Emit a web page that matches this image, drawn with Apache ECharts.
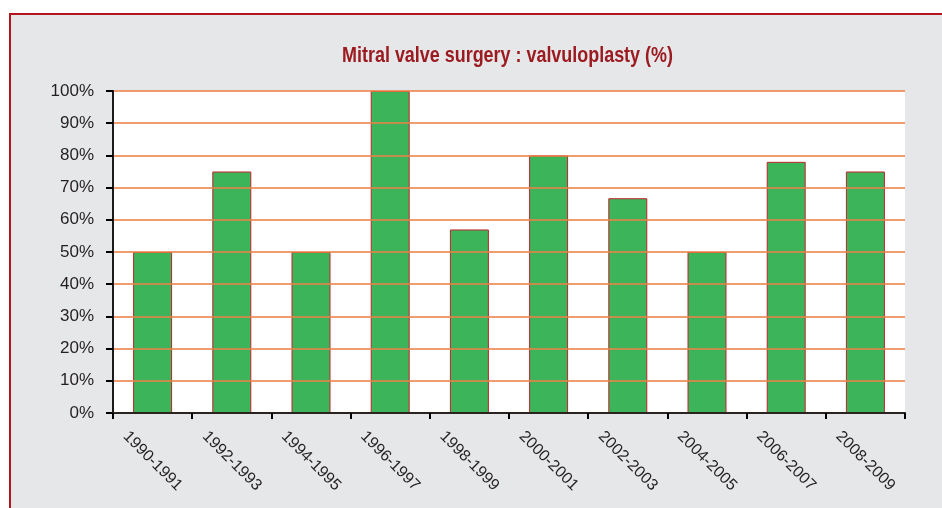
<!DOCTYPE html>
<html>
<head>
<meta charset="utf-8">
<script src="https://cdn.jsdelivr.net/npm/echarts@6/dist/echarts.min.js"></script>
<style>
  html, body { margin: 0; padding: 0; background: #ffffff; }
  #chart { width: 942px; height: 508px; }
</style>
</head>
<body>
<div id="chart"></div>
<script>
// ---- data ----
const titleText = 'Mitral valve surgery : valvuloplasty (%)';
const categories = ['1990-1991', '1992-1993', '1994-1995', '1996-1997', '1998-1999',
                    '2000-2001', '2002-2003', '2004-2005', '2006-2007', '2008-2009'];
const valvuloplastyPct = [50, 75, 50, 100, 57, 80, 66.7, 50, 78, 75];
const yTicks = [0, 10, 20, 30, 40, 50, 60, 70, 80, 90, 100];

const BAR_W = 39;

const chart = echarts.init(document.getElementById('chart'), null, { renderer: 'canvas' });

const option = {
  animation: false,
  backgroundColor: '#ffffff',
  graphic: [{
    type: 'rect',
    z: -10,
    silent: true,
    shape: { x: 10, y: 14, width: 1000, height: 600 },
    style: { fill: '#e6e7e9', stroke: '#b3161e', lineWidth: 2 }
  }, {
    type: 'text',
    silent: true,
    z: 10,
    x: 507.5,
    y: 56,
    scaleX: 0.815,
    scaleY: 1,
    style: {
      text: titleText,
      font: 'bold 22px "Liberation Sans", Arial, sans-serif',
      fill: '#9b1b21',
      textAlign: 'center',
      textVerticalAlign: 'middle',
      align: 'center',
      verticalAlign: 'middle'
    }
  }],
  grid: {
    left: 113, right: 37, top: 91, bottom: 95,
    show: true, backgroundColor: '#ffffff', borderWidth: 0
  },
  xAxis: {
    type: 'category',
    data: categories,
    boundaryGap: true,
    z: 4,
    axisLine: { show: true, lineStyle: { color: '#2b2320', width: 2 } },
    axisTick: { show: true, length: 6, lineStyle: { color: '#000000', width: 2 } },
    axisLabel: {
      rotate: -45,
      align: 'center',
      verticalAlign: 'middle',
      margin: 48,
      interval: 0,
      fontFamily: "'Liberation Sans', Arial, sans-serif",
      fontSize: 16,
      color: '#231f20'
    },
    splitLine: { show: false }
  },
  yAxis: {
    type: 'value',
    min: 0, max: yTicks[yTicks.length - 1], interval: 10,
    z: 3,
    axisLine: { show: true, lineStyle: { color: '#1a1a1a', width: 2 } },
    axisTick: { show: true, length: 7, lineStyle: { color: '#000000', width: 2 } },
    axisLabel: {
      formatter: '{value}%',
      margin: 19,
      fontFamily: "'Liberation Sans', Arial, sans-serif",
      fontSize: 17,
      color: '#231f20'
    },
    splitLine: { show: true, lineStyle: { color: 'rgba(235,130,70,0.78)', width: 2 } }
  },
  series: [{
    type: 'bar',
    data: valvuloplastyPct,
    barWidth: BAR_W,
    z: 2,
    itemStyle: { color: '#3cb55a', borderColor: '#c1222b', borderWidth: 1 }
  }]
};
chart.setOption(option);
</script>
</body>
</html>
